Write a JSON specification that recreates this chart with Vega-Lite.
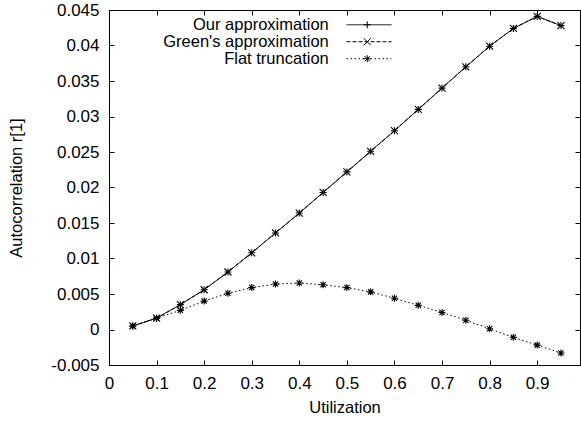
{
  "$schema": "https://vega.github.io/schema/vega-lite/v6.json",
  "width": 471,
  "height": 355,
  "autosize": {"type": "none"},
  "padding": {"left": 109, "top": 10, "right": 1, "bottom": 58},
  "background": "white",
  "config": {
    "font": "Liberation Sans",
    "view": {"stroke": "black", "strokeWidth": 1},
    "axis": {
      "grid": false,
      "domainColor": "black",
      "tickColor": "black",
      "labelColor": "black",
      "titleColor": "black",
      "labelFont": "Liberation Sans",
      "titleFont": "Liberation Sans",
      "labelFontSize": 17,
      "titleFontSize": 16.5,
      "titleFontWeight": "normal",
      "tickSize": -5,
      "tickWidth": 1,
      "domainWidth": 1,
      "labelFlush": false,
      "labelOverlap": false
    },
    "legend": {
      "labelFont": "Liberation Sans",
      "labelFontSize": 16.5,
      "labelColor": "black",
      "padding": 0,
      "rowPadding": -1.5,
      "labelLimit": 400,
      "symbolStrokeColor": "black",
      "symbolFillColor": "transparent",
      "symbolStrokeWidth": 1,
      "symbolOpacity": 1
    }
  },
  "data": {
    "values": [
      {"x": 0.05, "y": 0.0005, "series": "Our approximation"},
      {"x": 0.10, "y": 0.0016, "series": "Our approximation"},
      {"x": 0.15, "y": 0.0035, "series": "Our approximation"},
      {"x": 0.20, "y": 0.0056, "series": "Our approximation"},
      {"x": 0.25, "y": 0.0081, "series": "Our approximation"},
      {"x": 0.30, "y": 0.0108, "series": "Our approximation"},
      {"x": 0.35, "y": 0.0136, "series": "Our approximation"},
      {"x": 0.40, "y": 0.0164, "series": "Our approximation"},
      {"x": 0.45, "y": 0.0193, "series": "Our approximation"},
      {"x": 0.50, "y": 0.0222, "series": "Our approximation"},
      {"x": 0.55, "y": 0.0251, "series": "Our approximation"},
      {"x": 0.60, "y": 0.0280, "series": "Our approximation"},
      {"x": 0.65, "y": 0.0310, "series": "Our approximation"},
      {"x": 0.70, "y": 0.0340, "series": "Our approximation"},
      {"x": 0.75, "y": 0.0370, "series": "Our approximation"},
      {"x": 0.80, "y": 0.0399, "series": "Our approximation"},
      {"x": 0.85, "y": 0.0424, "series": "Our approximation"},
      {"x": 0.90, "y": 0.0441, "series": "Our approximation"},
      {"x": 0.95, "y": 0.0428, "series": "Our approximation"},
      {"x": 0.05, "y": 0.0005, "series": "Green's approximation"},
      {"x": 0.10, "y": 0.0016, "series": "Green's approximation"},
      {"x": 0.15, "y": 0.0035, "series": "Green's approximation"},
      {"x": 0.20, "y": 0.0056, "series": "Green's approximation"},
      {"x": 0.25, "y": 0.0081, "series": "Green's approximation"},
      {"x": 0.30, "y": 0.0108, "series": "Green's approximation"},
      {"x": 0.35, "y": 0.0136, "series": "Green's approximation"},
      {"x": 0.40, "y": 0.0164, "series": "Green's approximation"},
      {"x": 0.45, "y": 0.0193, "series": "Green's approximation"},
      {"x": 0.50, "y": 0.0222, "series": "Green's approximation"},
      {"x": 0.55, "y": 0.0251, "series": "Green's approximation"},
      {"x": 0.60, "y": 0.0280, "series": "Green's approximation"},
      {"x": 0.65, "y": 0.0310, "series": "Green's approximation"},
      {"x": 0.70, "y": 0.0340, "series": "Green's approximation"},
      {"x": 0.75, "y": 0.0370, "series": "Green's approximation"},
      {"x": 0.80, "y": 0.0399, "series": "Green's approximation"},
      {"x": 0.85, "y": 0.0424, "series": "Green's approximation"},
      {"x": 0.90, "y": 0.0441, "series": "Green's approximation"},
      {"x": 0.95, "y": 0.0428, "series": "Green's approximation"},
      {"x": 0.05, "y": 0.0005, "series": "Flat truncation"},
      {"x": 0.10, "y": 0.0016, "series": "Flat truncation"},
      {"x": 0.15, "y": 0.0027, "series": "Flat truncation"},
      {"x": 0.20, "y": 0.0040, "series": "Flat truncation"},
      {"x": 0.25, "y": 0.0051, "series": "Flat truncation"},
      {"x": 0.30, "y": 0.0059, "series": "Flat truncation"},
      {"x": 0.35, "y": 0.0064, "series": "Flat truncation"},
      {"x": 0.40, "y": 0.00655, "series": "Flat truncation"},
      {"x": 0.45, "y": 0.0063, "series": "Flat truncation"},
      {"x": 0.50, "y": 0.0059, "series": "Flat truncation"},
      {"x": 0.55, "y": 0.0053, "series": "Flat truncation"},
      {"x": 0.60, "y": 0.0044, "series": "Flat truncation"},
      {"x": 0.65, "y": 0.0034, "series": "Flat truncation"},
      {"x": 0.70, "y": 0.0024, "series": "Flat truncation"},
      {"x": 0.75, "y": 0.0013, "series": "Flat truncation"},
      {"x": 0.80, "y": 0.0001, "series": "Flat truncation"},
      {"x": 0.85, "y": -0.0011, "series": "Flat truncation"},
      {"x": 0.90, "y": -0.0022, "series": "Flat truncation"},
      {"x": 0.95, "y": -0.0033, "series": "Flat truncation"}
    ]
  },
  "layer": [
    {
      "mark": {"type": "line", "color": "black", "strokeWidth": 1},
      "encoding": {
        "x": {
          "field": "x", "type": "quantitative",
          "scale": {"domain": [0, 0.99], "nice": false, "zero": false},
          "axis": {
            "orient": "bottom",
            "values": [0, 0.1, 0.2, 0.3, 0.4, 0.5, 0.6, 0.7, 0.8, 0.9],
            "labelExpr": "datum.value + ''",
            "labelPadding": 15,
            "title": "Utilization",
            "titlePadding": 8
          }
        },
        "y": {
          "field": "y", "type": "quantitative",
          "scale": {"domain": [-0.005, 0.045], "nice": false, "zero": false},
          "axis": {
            "orient": "left",
            "values": [-0.005, 0, 0.005, 0.01, 0.015, 0.02, 0.025, 0.03, 0.035, 0.04, 0.045],
            "labelExpr": "datum.value + ''",
            "labelPadding": 15,
            "title": "Autocorrelation r[1]",
            "titlePadding": 26
          }
        },
        "strokeDash": {
          "field": "series", "type": "nominal",
          "scale": {
            "domain": ["Our approximation", "Green's approximation", "Flat truncation"],
            "range": [[1, 0], [4, 2], [1.5, 2.5]]
          },
          "legend": {
            "orient": "none",
            "legendX": 246.5,
            "legendY": 6.5,
            "title": null,
            "symbolType": "M-6,0L6,0",
            "symbolSize": 56.25,
            "symbolOffset": 5.25,
            "labelAlign": "right",
            "labelOffset": -48.5
          }
        }
      }
    },
    {
      "mark": {"type": "point", "filled": false, "stroke": "black", "strokeWidth": 1.1, "size": 49, "opacity": 1},
      "encoding": {
        "x": {
          "field": "x", "type": "quantitative",
          "axis": {
            "orient": "top",
            "values": [0, 0.1, 0.2, 0.3, 0.4, 0.5, 0.6, 0.7, 0.8, 0.9],
            "labels": false,
            "title": null
          }
        },
        "y": {
          "field": "y", "type": "quantitative",
          "axis": {
            "orient": "right",
            "values": [-0.005, 0, 0.005, 0.01, 0.015, 0.02, 0.025, 0.03, 0.035, 0.04, 0.045],
            "labels": false,
            "title": null
          }
        },
        "shape": {
          "field": "series", "type": "nominal",
          "sort": ["Our approximation", "Green's approximation", "Flat truncation"],
          "scale": {
            "range": [
              "M-1,0L1,0M0,-1L0,1",
              "M-1,-1L1,1M-1,1L1,-1",
              "M-1,0L1,0M0,-1L0,1M-0.75,-0.75L0.75,0.75M-0.75,0.75L0.75,-0.75"
            ]
          },
          "legend": {
            "orient": "none",
            "legendX": 250,
            "legendY": 6.5,
            "title": null,
            "symbolSize": 49,
            "labelOpacity": 0
          }
        }
      }
    }
  ],
  "resolve": {"axis": {"x": "independent", "y": "independent"}}
}
